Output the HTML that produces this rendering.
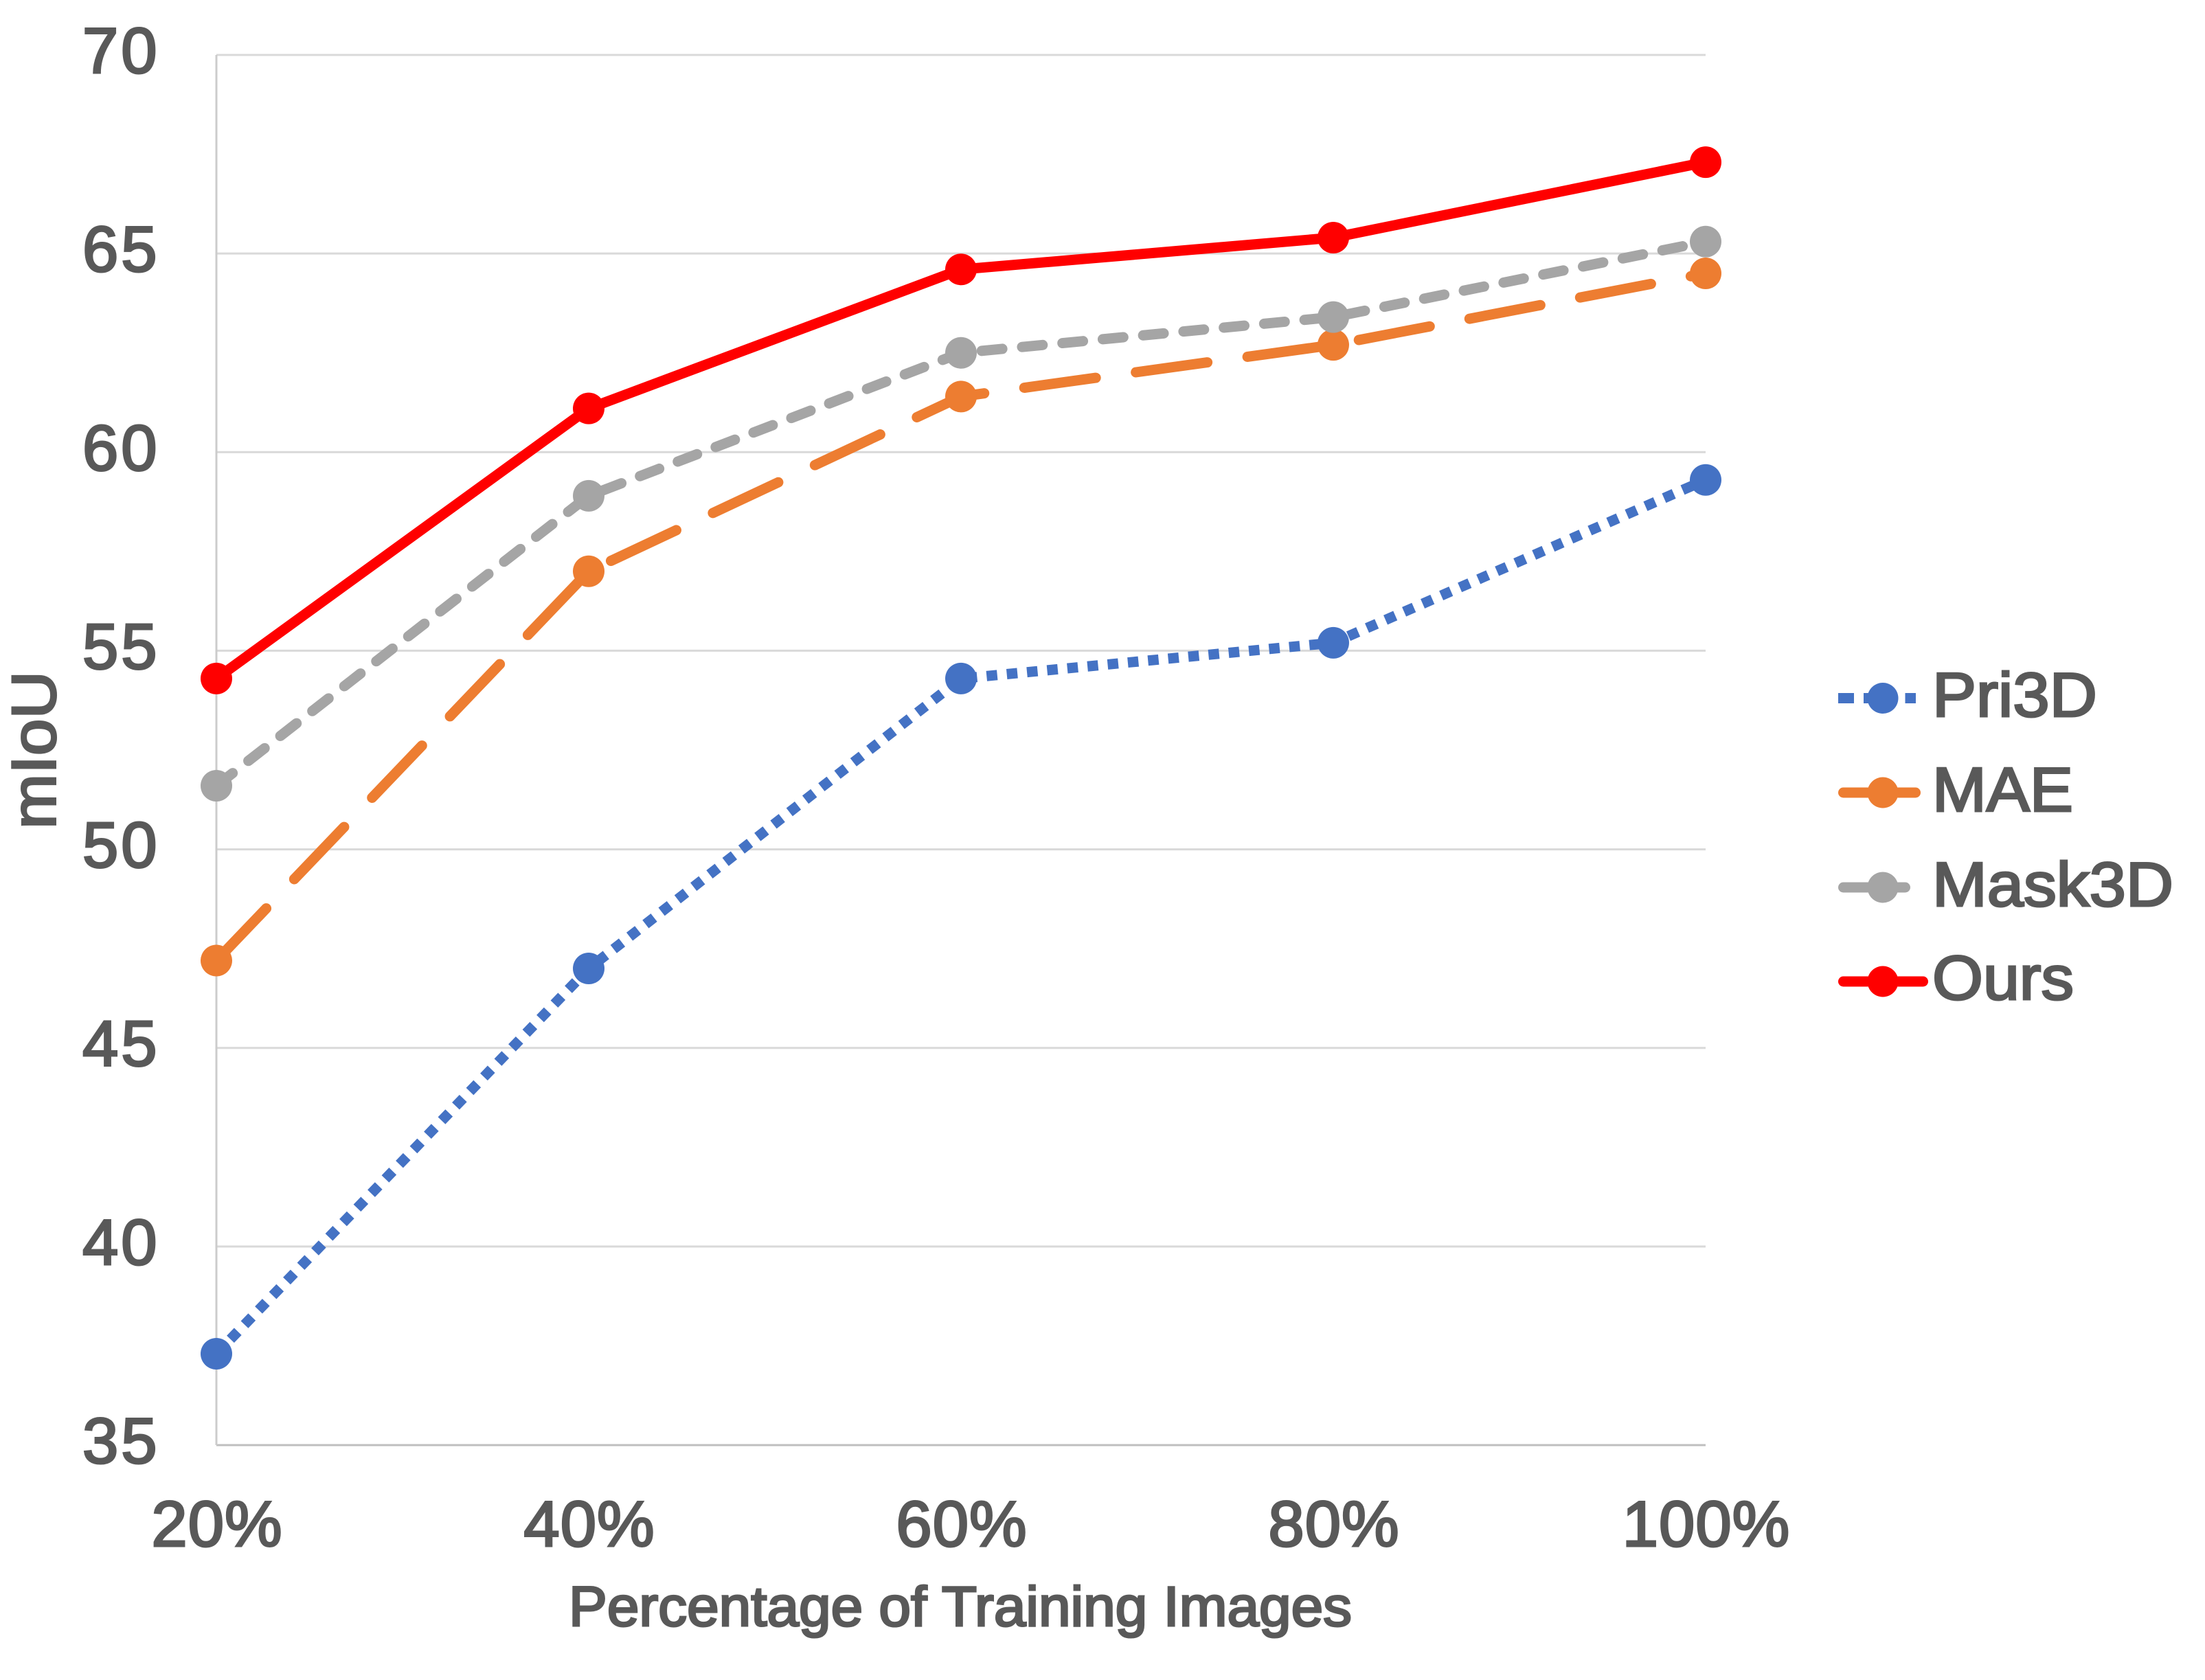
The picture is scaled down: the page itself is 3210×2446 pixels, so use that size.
<!DOCTYPE html>
<html lang="en">
<head>
<meta charset="utf-8">
<title>mIoU vs Percentage of Training Images</title>
<style>
html,body{margin:0;padding:0;background:#fff;width:3210px;height:2446px;overflow:hidden}
svg{display:block}
text{font-family:"Liberation Sans",sans-serif;fill:#595959;stroke:#595959;stroke-width:3px}
</style>
</head>
<body>
<svg id="chart" xmlns="http://www.w3.org/2000/svg" width="3210" height="2446" viewBox="0 0 3210 2446">
<rect x="0" y="0" width="3210" height="2446" fill="#ffffff"/>
<g id="grid"></g>
<g id="yticks"></g>
<g id="xticks"></g>
<g id="series"></g>
<text x="1398" y="2367" font-size="82" text-anchor="middle" textLength="1140" lengthAdjust="spacingAndGlyphs">Percentage of Training Images</text>
<text transform="translate(80.5,1207) rotate(-90)" x="0" y="0" font-size="91" textLength="230" lengthAdjust="spacingAndGlyphs">mIoU</text>
<g>
  <g>
    <rect x="2676" y="1009" width="23" height="15" fill="#4472C4"/>
    <rect x="2713" y="1009" width="23" height="15" fill="#4472C4"/>
    <rect x="2773.5" y="1009" width="15.5" height="15" fill="#4472C4"/>
    <circle cx="2741" cy="1016.5" r="22.5" fill="#4472C4"/>
    <text x="2813" y="1043" font-size="91" textLength="240" lengthAdjust="spacingAndGlyphs">Pri3D</text>
  </g>
  <g>
    <line x1="2683.5" y1="1154" x2="2788.5" y2="1154" stroke="#ED7D31" stroke-width="15" stroke-linecap="round"/>
    <circle cx="2741" cy="1154" r="22.5" fill="#ED7D31"/>
    <text x="2813" y="1181" font-size="91" textLength="205" lengthAdjust="spacingAndGlyphs">MAE</text>
  </g>
  <g>
    <line x1="2683.5" y1="1292" x2="2773.5" y2="1292" stroke="#A5A5A5" stroke-width="15" stroke-linecap="round"/>
    <circle cx="2741" cy="1292" r="22.5" fill="#A5A5A5"/>
    <text x="2813" y="1319" font-size="91" textLength="351" lengthAdjust="spacingAndGlyphs">Mask3D</text>
  </g>
  <g>
    <line x1="2683.5" y1="1429" x2="2799.5" y2="1429" stroke="#FF0000" stroke-width="15" stroke-linecap="round"/>
    <circle cx="2741" cy="1429" r="22.5" fill="#FF0000"/>
    <text x="2813" y="1455" font-size="91" textLength="206" lengthAdjust="spacingAndGlyphs">Ours</text>
  </g>
</g>
</svg>
<script>
const categories = ["20%", "40%", "60%", "80%", "100%"];
const yTickValues = [35, 40, 45, 50, 55, 60, 65, 70];
const pri3dValues = [37.3, 47.0, 54.3, 55.2, 59.3];
const maeValues = [47.2, 57.0, 61.4, 62.7, 64.5];
const mask3dValues = [51.6, 58.9, 62.5, 63.4, 65.3];
const oursValues = [54.3, 61.1, 64.6, 65.4, 67.3];

const NS = "http://www.w3.org/2000/svg";
const plotLeft = 315, plotRight = 2483, plotTop = 80, plotBottom = 2104;
const yMin = 35, yMax = 70;

function xScale(i) {
  return plotLeft + (plotRight - plotLeft) * i / (categories.length - 1);
}
function yScale(v) {
  return plotBottom - (plotBottom - plotTop) * (v - yMin) / (yMax - yMin);
}
function make(tag, attrs, parent) {
  const el = document.createElementNS(NS, tag);
  for (const k in attrs) el.setAttribute(k, attrs[k]);
  parent.appendChild(el);
  return el;
}

const gridG = document.getElementById("grid");
const yTickG = document.getElementById("yticks");
const xTickG = document.getElementById("xticks");
const seriesG = document.getElementById("series");

yTickValues.forEach(function (v) {
  const y = yScale(v);
  const isBase = v === yMin;
  const line = make("line", {x1: plotLeft, x2: plotRight, y1: y, y2: y, stroke: isBase ? "#BFBFBF" : "#D9D9D9", "stroke-width": 3}, gridG);
  
  
  const label = make("text", {x: 232.5, y: y + 26, "font-size": 94, "text-anchor": "end", "letter-spacing": 4}, yTickG);
  
  
  label.textContent = String(v);
});

const yAxisLine = make("line", {x1: plotLeft, x2: plotLeft, y1: plotTop, y2: plotBottom, stroke: "#CCCCCC", "stroke-width": 3}, gridG);



categories.forEach(function (c, i) {
  const label = make("text", {x: xScale(i) + 1, y: 2251, "font-size": 94, "text-anchor": "middle", "letter-spacing": 1}, xTickG);
  
  
  label.textContent = c;
});

function drawSeries(values, color, dash, cap, seriesName) {
  const g = make("g", {}, seriesG);
  
  
  const pts = values.map(function (v, i) { return xScale(i) + "," + yScale(v); }).join(" ");
  const line = make("polyline", {points: pts, fill: "none", stroke: color, "stroke-width": 15, "stroke-linecap": cap, "stroke-linejoin": "round"}, g);
  if (dash) line.setAttribute("stroke-dasharray", dash);
  
  
  values.forEach(function (v, i) {
    const dot = make("circle", {cx: xScale(i), cy: yScale(v), r: 23, fill: color}, g);
    
    
  });
}

drawSeries(pri3dValues, "#4472C4", "15.5 14", "butt", "series-pri3d");
drawSeries(maeValues, "#ED7D31", "105 59", "round", "series-mae");
drawSeries(mask3dValues, "#A5A5A5", "30 29", "round", "series-mask3d");
drawSeries(oursValues, "#FF0000", null, "round", "series-ours");
</script>
</body>
</html>
